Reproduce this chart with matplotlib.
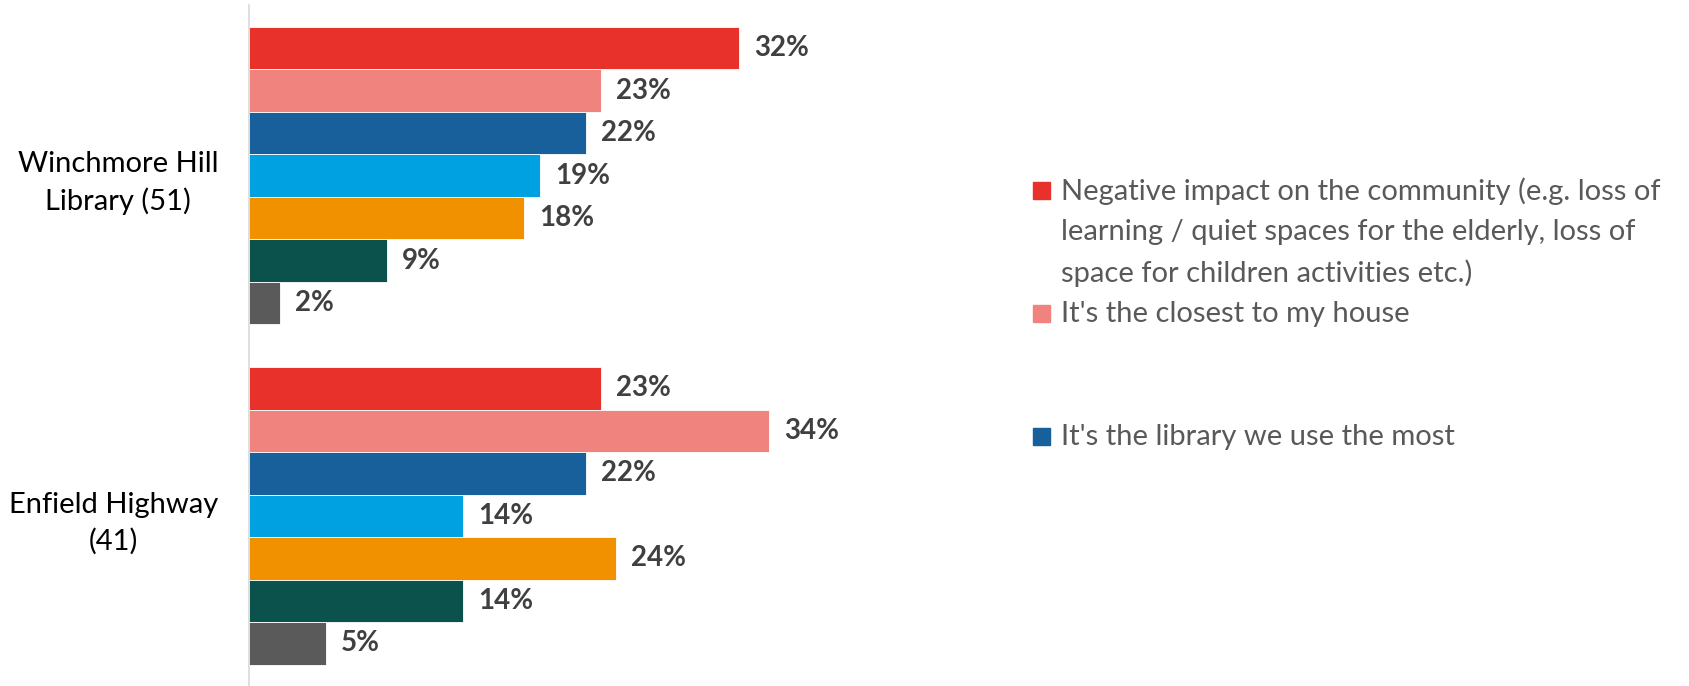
import matplotlib
matplotlib.use("Agg")
import matplotlib.pyplot as plt
import matplotlib.patches as mpatches
import numpy as np

plt.rcParams["font.family"] = ["Lato", "DejaVu Sans"]

# ---------------------------------------------------------------------------
# Data
# ---------------------------------------------------------------------------
libraries = ["Winchmore Hill\nLibrary (51)", "Enfield Highway\n(41)"]
winchmore = [32, 23, 22, 19, 18, 9, 2]
enfield   = [23, 34, 22, 14, 24, 14, 5]
colors    = ["#E8312B", "#F0837E", "#17609C", "#00A1E1", "#F29100", "#0B524D", "#5A5A5A"]
legend_labels = [
    "Negative impact on the community (e.g. loss of\nlearning / quiet spaces for the elderly, loss of\nspace for children activities etc.)",
    "It's the closest to my house",
    "It's the library we use the most",
]
legend_lines = [0, 3, 6]   # line slot of each legend entry (gaps for hidden ones)

W, H = 1689, 686
fig = plt.figure(figsize=(W / 100, H / 100), dpi=100)
ax = fig.add_axes([249 / W, 0.0, 612 / W, 0.992])

series = np.array([winchmore, enfield])
n_bars = series.shape[1]
for i in range(n_bars):
    ys = np.arange(len(libraries)) * (n_bars + 1) + i + 0.5
    bars = ax.barh(ys, series[:, i], height=1.0, color=colors[i],
                   edgecolor="white", linewidth=0.6)
    ax.bar_label(bars, labels=[f"{v}%" for v in series[:, i]], padding=11,
                 fontsize=20, fontweight="bold", color="#404040")

centers = np.arange(len(libraries)) * (n_bars + 1) + n_bars / 2
ax.set_yticks(centers)
ax.set_yticklabels(libraries, fontsize=21, multialignment="center", linespacing=1.45)
ax.tick_params(axis="y", length=0, pad=22)
ax.set_xticks([])
ax.set_xlim(0, 40)
ax.set_ylim(2 * (n_bars + 1) - 0.5, -0.5)

for side in ("top", "right", "bottom"):
    ax.spines[side].set_visible(False)
ax.spines["left"].set_color("#D9D9D9")
ax.spines["left"].set_linewidth(1.2)

# legend drawn manually to keep the uneven spacing of the original
line_h = 41
y0 = 191
for label, slot, c in zip(legend_labels, legend_lines, colors):
    yc = y0 + slot * line_h
    fig.patches.append(mpatches.Rectangle((1033 / W, 1 - (yc + 8) / H), 17 / W, 17 / H,
                                          transform=fig.transFigure, color=c))
    for k, line in enumerate(label.split("\n")):
        fig.text(1061 / W, 1 - (yc + k * line_h) / H, line, fontsize=21,
                 color="#595959", va="center", ha="left")

fig.savefig("out.png", dpi=100)
